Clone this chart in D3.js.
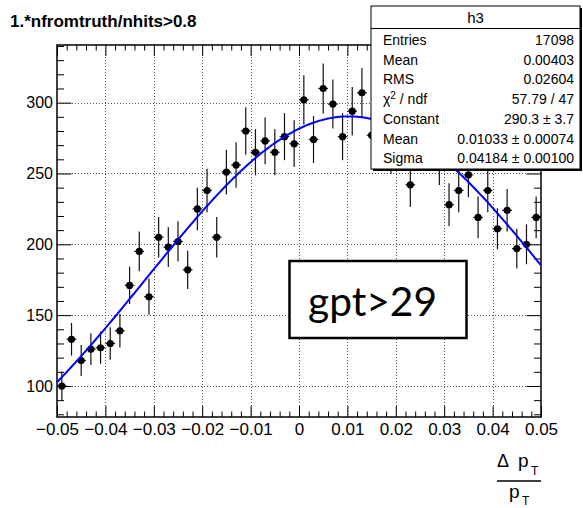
<!DOCTYPE html>
<html><head><meta charset="utf-8">
<script src="https://cdn.jsdelivr.net/npm/d3@7"></script>
<style>body{margin:0;background:#fff}svg{display:block}</style>
</head><body><svg id="c" width="583" height="508"></svg>
<script>
const binCenters = [-0.049,-0.047,-0.045,-0.043,-0.041,-0.039,-0.037,-0.035,-0.033,-0.031,
  -0.029,-0.027,-0.025,-0.023,-0.021,-0.019,-0.017,-0.015,-0.013,-0.011,
  -0.009,-0.007,-0.005,-0.003,-0.001,0.001,0.003,0.005,0.007,0.009,
  0.011,0.013,0.015,0.017,0.019,0.021,0.023,0.025,0.027,0.029,
  0.031,0.033,0.035,0.037,0.039,0.041,0.043,0.045,0.047,0.049];
const counts = [100,133,118,126,127,130,139,171,195,163,
  205,198,202,182,225,238,205,251,256,280,
  265,273,265,276,271,302,274,310,299,276,
  294,307,277,284,266,282,242,289,279,258,
  228,238,249,219,238,211,224,197,200,219];
const errors = [10.0,11.5,10.9,11.2,11.3,11.4,11.8,13.1,14.0,12.8,
  14.3,14.1,14.2,13.5,15.0,15.4,14.3,15.8,16.0,16.7,
  16.3,16.5,16.3,16.6,16.5,17.4,16.6,17.6,17.3,16.6,
  17.1,17.5,16.6,16.9,16.3,16.8,15.6,17.0,16.7,16.1,
  15.1,15.4,15.8,14.8,15.4,14.5,15.0,14.0,14.1,14.8];
const binHalfWidth = 0.001;
const xTickValues = [-0.05,-0.04,-0.03,-0.02,-0.01,0,0.01,0.02,0.03,0.04,0.05];
const xTickLabels = ["\u22120.05","\u22120.04","\u22120.03","\u22120.02","\u22120.01","0","0.01","0.02","0.03","0.04","0.05"];
const yTickValues = [100,150,200,250,300];
const yTickLabels = ["100","150","200","250","300"];
const fitParams = [290.3, 0.01033, 0.04184]; // Constant, Mean, Sigma
const statsLabels = ["Entries","Mean","RMS","\u03C7\u00B2 / ndf","Constant","Mean","Sigma"];
const statsValues = ["17098","0.00403","0.02604","57.79 / 47","290.3 \u00B1 3.7","0.01033 \u00B1 0.00074","0.04184 \u00B1 0.00100"];
const statsTitle = "h3";
const titleText = "1.*nfromtruth/nhits>0.8";
const annotation = "gpt>29";

const FONT = "'Liberation Sans', Arial, Helvetica, sans-serif";
const svg = d3.select("#c");
svg.append("rect").attr("width",583).attr("height",508).attr("fill","#fff");

const M = {l:57, r:541, t:45, b:417};
const x = d3.scaleLinear().domain([-0.05,0.05]).range([M.l,M.r]);
const y = d3.scaleLinear().domain([78.1,340.7]).range([M.b,M.t]);

// grid
const grid = svg.append("g").attr("stroke","#555").attr("stroke-width",1).attr("stroke-dasharray","1,2");
xTickValues.slice(1,-1).forEach(v=>{
  grid.append("line").attr("x1",Math.round(x(v))+0.5).attr("x2",Math.round(x(v))+0.5).attr("y1",M.t).attr("y2",M.b);
});
yTickValues.forEach(v=>{
  grid.append("line").attr("y1",Math.round(y(v))+0.5).attr("y2",Math.round(y(v))+0.5).attr("x1",M.l).attr("x2",M.r);
});

// axes (ticks inward on all sides)
const xMinor = d3.range(-0.05,0.0501,0.002).filter(v=>Math.abs(Math.round(v*100)-v*100)>1e-6);
const yMinor = d3.range(80,341,10).filter(v=>v%50!==0);
function styleAxis(g){ g.select(".domain").remove(); g.selectAll("line").attr("stroke","#000"); }

svg.append("g").attr("transform",`translate(0,${M.b})`)
  .call(d3.axisBottom(x).tickValues(xTickValues).tickSize(-11).tickPadding(6)
        .tickFormat((d,i)=>xTickLabels[i]))
  .call(styleAxis)
  .call(g=>g.selectAll("text").attr("font-family",FONT).attr("font-size",17).attr("fill","#000"));
svg.append("g").attr("transform",`translate(0,${M.b})`)
  .call(d3.axisBottom(x).tickValues(xMinor).tickSize(-5.5).tickFormat(""))
  .call(styleAxis);
svg.append("g").attr("transform",`translate(0,${M.t})`)
  .call(d3.axisTop(x).tickValues(xTickValues).tickSize(-11).tickFormat(""))
  .call(styleAxis);
svg.append("g").attr("transform",`translate(0,${M.t})`)
  .call(d3.axisTop(x).tickValues(xMinor).tickSize(-5.5).tickFormat(""))
  .call(styleAxis);
svg.append("g").attr("transform",`translate(${M.l},0)`)
  .call(d3.axisLeft(y).tickValues(yTickValues).tickSize(-14.5).tickPadding(4)
        .tickFormat((d,i)=>yTickLabels[i]))
  .call(styleAxis)
  .call(g=>g.selectAll("text").attr("font-family",FONT).attr("font-size",16).attr("fill","#000"));
svg.append("g").attr("transform",`translate(${M.l},0)`)
  .call(d3.axisLeft(y).tickValues(yMinor).tickSize(-7).tickFormat(""))
  .call(styleAxis);
svg.append("g").attr("transform",`translate(${M.r},0)`)
  .call(d3.axisRight(y).tickValues(yTickValues).tickSize(-14.5).tickFormat(""))
  .call(styleAxis);
svg.append("g").attr("transform",`translate(${M.r},0)`)
  .call(d3.axisRight(y).tickValues(yMinor).tickSize(-7).tickFormat(""))
  .call(styleAxis);

// frame
svg.append("rect").attr("x",M.l).attr("y",M.t).attr("width",M.r-M.l).attr("height",M.b-M.t)
  .attr("fill","none").attr("stroke","#000").attr("stroke-width",1.5);

// data points with error bars
const pts = svg.append("g");
binCenters.forEach((c,i)=>{
  const v = counts[i], e = errors[i];
  pts.append("line").attr("x1",x(c)).attr("x2",x(c)).attr("y1",y(v-e)).attr("y2",y(v+e))
    .attr("stroke","#111").attr("stroke-width",1.2);
  pts.append("line").attr("x1",x(c-binHalfWidth)).attr("x2",x(c+binHalfWidth)).attr("y1",y(v)).attr("y2",y(v))
    .attr("stroke","#111").attr("stroke-width",1.2);
  pts.append("circle").attr("cx",x(c)).attr("cy",y(v)).attr("r",3.6).attr("fill","#000");
});

// fit curve (Gaussian with fitted parameters)
const gauss = t => fitParams[0]*Math.exp(-0.5*Math.pow((t-fitParams[1])/fitParams[2],2));
const fx = d3.range(0,201).map(k=>-0.05+k*0.0005);
svg.append("path").datum(fx)
  .attr("d",d3.line().x(t=>x(t)).y(t=>y(gauss(t))))
  .attr("fill","none").attr("stroke","#0000ff").attr("stroke-width",2);

// title
svg.append("text").attr("x",10).attr("y",27).attr("font-family",FONT).attr("font-weight","bold")
  .attr("font-size",17).text(titleText);

// x axis title (fraction)
const at = svg.append("g").attr("font-family",FONT).attr("fill","#000");
at.append("text").attr("x",497).attr("y",467).attr("font-size",18).text("\u0394");
at.append("text").attr("x",518).attr("y",467).attr("font-size",19).text("p");
at.append("text").attr("x",531).attr("y",475).attr("font-size",12).text("T");
at.append("line").attr("x1",497).attr("x2",541).attr("y1",481).attr("y2",481).attr("stroke","#000").attr("stroke-width",1.5);
at.append("text").attr("x",509).attr("y",498).attr("font-size",19).text("p");
at.append("text").attr("x",522).attr("y",505).attr("font-size",12).text("T");

// stats box
const sb = svg.append("g").attr("font-family",FONT);
const SX=371, SY=6, SW=209, SH=163;
sb.append("rect").attr("x",SX+2).attr("y",SY+2).attr("width",SW).attr("height",SH).attr("fill","#000");
sb.append("rect").attr("x",SX).attr("y",SY).attr("width",SW).attr("height",SH).attr("fill","#fff").attr("stroke","#000").attr("stroke-width",1);
sb.append("line").attr("x1",SX).attr("x2",SX+SW).attr("y1",28.5).attr("y2",28.5).attr("stroke","#000");
sb.append("text").attr("x",SX+SW/2).attr("y",23).attr("text-anchor","middle").attr("font-size",15).text(statsTitle);
statsLabels.forEach((l,i)=>{
  const yy = 45 + i*19.7;
  const t = sb.append("text").attr("x",383).attr("y",yy).attr("font-size",14);
  if (i===3) {
    t.append("tspan").text("\u03C7");
    t.append("tspan").attr("font-size",10).attr("dy",-5).text("2");
    t.append("tspan").attr("dy",5).text(" / ndf");
  } else t.text(l);
  sb.append("text").attr("x",574).attr("y",yy).attr("text-anchor","end").attr("font-size",14).text(statsValues[i]);
});

// annotation box
svg.append("rect").attr("x",289.5).attr("y",261).attr("width",177).attr("height",77)
  .attr("fill","#fff").attr("stroke","#000").attr("stroke-width",2.5);
svg.append("text").attr("x",372.5).attr("y",316).attr("text-anchor","middle")
  .attr("font-family","Lato, 'Open Sans', sans-serif").attr("font-size",40).attr("fill","#000")
  .attr("textLength",129).attr("lengthAdjust","spacingAndGlyphs").text(annotation);
</script></body></html>
